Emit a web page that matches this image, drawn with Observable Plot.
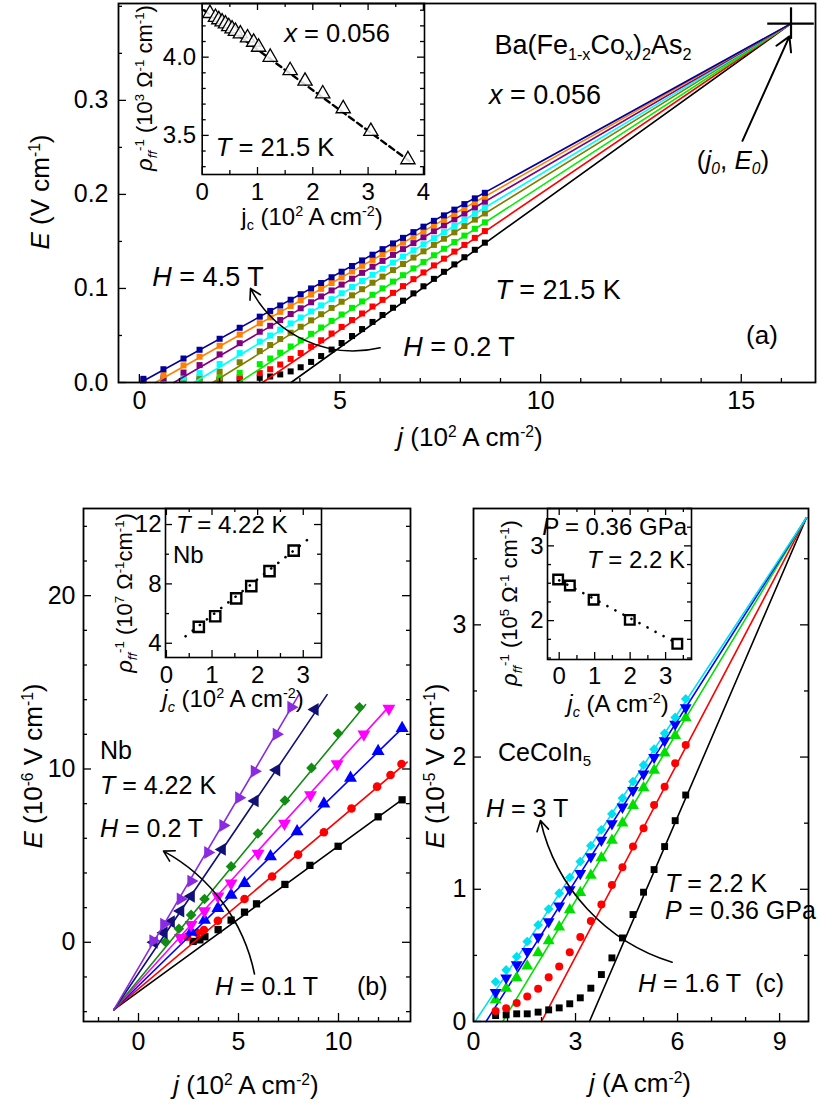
<!DOCTYPE html>
<html><head><meta charset="utf-8">
<script src="https://cdn.jsdelivr.net/npm/d3@7"></script>
<script src="https://cdn.jsdelivr.net/npm/@observablehq/plot@0.6"></script>
<style>
html,body{margin:0;padding:0;background:#fff;}
#wrap{position:relative;width:830px;height:1101px;overflow:hidden;font-family:"Liberation Sans",Arial,Helvetica,sans-serif;color:#000;background:#fff;}
#wrap svg{position:absolute;overflow:visible;}
.t{position:absolute;white-space:nowrap;line-height:1;}
.t sup{font-size:0.6em;vertical-align:0;position:relative;top:-0.6em;}
.t sub{font-size:0.6em;vertical-align:0;position:relative;top:0.35em;}
</style></head>
<body><div id="wrap"></div>
<script>
const FONT = '"Liberation Sans", Arial, Helvetica, sans-serif';
const wrap = document.getElementById("wrap");

// ================= Panel (a): Ba(Fe1-xCox)2As2 =================
const aColors = ["#000000","#ff0000","#00ee00","#808000","#00ffff","#800080","#ff8000","#00009c"]; // H = 0.2 T ... 4.5 T
const aJ = [0.1,0.6,1.1,1.5,2.0,2.5,3.0,3.26,3.51,3.77,4.02,4.28,4.53,4.79,5.04,5.3,5.55,5.81,6.06,6.32,6.57,6.83,7.08,7.34,7.59,7.85,8.1,8.36,8.61];
const aE_black  = [null,null,null,null,0.0025,0.0034,0.0050,0.0064,0.0086,0.0118,0.0162,0.0219,0.0281,0.0350,0.0420,0.0494,0.0568,0.0644,0.0718,0.0795,0.0870,0.0948,0.1023,0.1102,0.1177,0.1256,0.1332,0.1411,0.1487];
const aE_red    = [null,null,null,0.0025,0.0035,0.0055,0.0100,0.0141,0.0191,0.0251,0.0313,0.0382,0.0449,0.0521,0.0591,0.0664,0.0734,0.0808,0.0879,0.0953,0.1025,0.1099,0.1170,0.1245,0.1317,0.1392,0.1463,0.1538,0.1610];
const aE_green  = [null,null,0.0025,0.0033,0.0054,0.0103,0.0195,0.0255,0.0317,0.0383,0.0449,0.0518,0.0585,0.0655,0.0723,0.0794,0.0862,0.0933,0.1001,0.1073,0.1141,0.1213,0.1282,0.1353,0.1422,0.1494,0.1562,0.1634,0.1703];
const aE_olive  = [null,0.0023,0.0035,0.0056,0.0115,0.0215,0.0334,0.0399,0.0462,0.0529,0.0593,0.0661,0.0726,0.0793,0.0859,0.0927,0.0992,0.1061,0.1126,0.1195,0.1260,0.1329,0.1395,0.1463,0.1529,0.1597,0.1663,0.1732,0.1798];
const aE_cyan   = [null,0.0029,0.0053,0.0100,0.0197,0.0313,0.0435,0.0500,0.0562,0.0628,0.0691,0.0756,0.0820,0.0886,0.0949,0.1015,0.1079,0.1145,0.1209,0.1275,0.1339,0.1406,0.1469,0.1535,0.1599,0.1666,0.1730,0.1797,0.1860];
const aE_purple = [0.0023,0.0045,0.0106,0.0185,0.0299,0.0418,0.0540,0.0603,0.0664,0.0728,0.0789,0.0853,0.0915,0.0979,0.1041,0.1104,0.1166,0.1231,0.1293,0.1357,0.1418,0.1482,0.1544,0.1609,0.1671,0.1735,0.1797,0.1862,0.1923];
const aE_orange = [0.0026,0.0080,0.0182,0.0274,0.0391,0.0510,0.0630,0.0692,0.0752,0.0814,0.0874,0.0936,0.0996,0.1058,0.1118,0.1181,0.1241,0.1304,0.1364,0.1426,0.1487,0.1549,0.1609,0.1671,0.1731,0.1793,0.1854,0.1916,0.1976];
const aE_navy   = [0.0039,0.0141,0.0255,0.0348,0.0465,0.0582,0.0700,0.0761,0.0819,0.0880,0.0939,0.1000,0.1058,0.1119,0.1178,0.1239,0.1298,0.1359,0.1418,0.1479,0.1538,0.1599,0.1657,0.1719,0.1777,0.1838,0.1897,0.1958,0.2017];
const aE = [aE_black,aE_red,aE_green,aE_olive,aE_cyan,aE_purple,aE_orange,aE_navy];
const aIntercepts = [3.78,3.07,2.48,1.83,1.36,0.86,0.40,0.03];   // j where each linear fit reaches E = 0
const aCross = {j: 16.24, E: 0.3816, dj: 0.58, dE: 0.0168};     // common point (j0, E0)
// inset (a)
const iaJ = [0.14,0.24,0.30,0.36,0.42,0.48,0.54,0.60,0.69,0.82,0.93,1.02,1.23,1.59,1.86,2.18,2.55,3.05,3.72];
const iaR = [4.28,4.255,4.24,4.226,4.213,4.196,4.181,4.166,4.149,4.124,4.096,4.064,4.0,3.915,3.847,3.766,3.671,3.526,3.345];
const iaFitJ = [0.03,3.75], iaFitR = [4.30,3.335];

// ================= Panel (b): Nb =================
const bColors = ["#000000","#ff0000","#0000ff","#ff00ff","#128c12","#101078","#8a2be2"];
const bBlackJ = [13.18,11.98,9.98,8.57,7.32,5.9,5.3,4.63,3.98,3.32,3.07,2.73];
const bBlackE = [8.22,7.24,5.54,4.44,3.34,2.22,1.74,1.28,0.73,0.32,0.14,0.05];
const bRedJ = [13.15,12.6,11.93,10.65,9.27,7.98,6.68,5.3,3.97,3.27,2.93,2.43];
const bRedE = [10.29,9.65,8.98,7.72,6.35,5.06,3.8,2.5,1.24,0.71,0.55,0.32];
const bBlueJ = [13.18,11.98,10.6,9.27,7.93,6.6,5.3,4.63,3.97,3.3,2.63];
const bBlueE = [12.35,11.02,9.48,7.99,6.39,4.95,3.41,2.73,1.97,1.28,0.6];
const bMagJ = [12.52,11.27,9.93,8.6,7.3,5.98,4.63,3.97,3.3,2.63,2.1];
const bMagE = [13.49,12.0,10.29,8.5,6.85,5.13,3.41,2.66,1.81,1.01,0.27];
const bGreenJ = [11.05,9.98,8.65,7.32,5.97,4.63,3.3,2.63,2.02,1.35];
const bGreenE = [13.56,12.05,10.06,8.18,6.28,4.38,2.5,1.58,0.78,0.02];
const bNavyJ = [8.82,6.9,5.82,4.18,2.63,2.1,1.63,1.27,0.77];
const bNavyE = [13.43,9.94,8.16,5.36,2.66,1.81,1.19,0.55,0.0];
const bPurpleJ = [7.63,6.9,5.8,5.02,4.23,3.47,2.63,2.1,1.27,0.73];
const bPurpleE = [13.56,12.0,9.87,8.34,6.74,5.18,3.53,2.5,1.05,0.09];
const bJs = [bBlackJ,bRedJ,bBlueJ,bMagJ,bGreenJ,bNavyJ,bPurpleJ];
const bEs = [bBlackE,bRedE,bBlueE,bMagE,bGreenE,bNavyE,bPurpleE];
const bEndJ = [13.18,13.43,13.18,12.52,11.35,9.43,8.02];
const bEndE = [8.23,10.4,12.34,13.6,13.71,14.29,14.29];
const bCommon = {j: -1.23, E: -3.89};
// inset (b)
const ibJ = [0.71,1.07,1.53,1.86,2.26,2.79];
const ibR = [5.1,5.82,7.02,7.85,8.86,10.24];
const ibFitJ = [0.42,3.16], ibFitR = [4.47,11.14];

// ================= Panel (c): CeCoIn5 =================
const cColors = ["#000000","#ff0000","#00e000","#0000ff","#00e0f0"];
const cJ = [0.65,0.96,1.27,1.58,1.9,2.21,2.52,2.83,3.14,3.45,3.76,4.07,4.38,4.69,5.0,5.31,5.62,5.93,6.24];
const cBlackE = [0.045,0.05,0.058,0.058,0.071,0.088,0.103,0.134,0.179,0.252,0.355,0.481,0.632,0.809,0.978,1.149,1.323,1.519,1.713];
const cRedE   = [0.08,0.10,0.14,0.19,0.247,0.335,0.416,0.524,0.64,0.76,0.884,1.033,1.166,1.323,1.461,1.638,1.776,1.953,2.091];
const cGreenE = [0.164,0.25,0.33,0.42,0.52,0.61,0.715,0.845,0.975,1.105,1.237,1.37,1.50,1.634,1.767,1.899,2.03,2.163,2.296];
const cBlueE  = [0.22,0.33,0.43,0.53,0.64,0.755,0.875,0.998,1.12,1.246,1.371,1.497,1.622,1.747,1.873,1.998,2.124,2.249,2.374];
const cCyanE  = [0.30,0.39,0.49,0.605,0.73,0.85,0.97,1.09,1.21,1.33,1.45,1.57,1.69,1.815,1.94,2.06,2.18,2.30,2.44];
const cEs = [cBlackE,cRedE,cGreenE,cBlueE,cCyanE];
const cIntercepts = [3.41,2.0,0.86,0.37,0.05];
const cCommon = {j: 9.79, E: 3.81};
// inset (c)
const icJ = [-0.03,0.30,0.97,1.99,3.33];
const icR = [2.55,2.47,2.28,2.01,1.69];
const icFitJ = [0.0,3.35], icFitR = [2.54,1.69];

// ---------- custom symbols ----------
const s3 = Math.sqrt(3);
const triDown = {draw(c, size){const y=-Math.sqrt(size/(s3*3)); c.moveTo(0,-2*y); c.lineTo(-s3*y,y); c.lineTo(s3*y,y); c.closePath();}};
const triLeft = {draw(c, size){const y=-Math.sqrt(size/(s3*3)); c.moveTo(2*y,0); c.lineTo(-y,-s3*y); c.lineTo(-y,s3*y); c.closePath();}};
const triRight = {draw(c, size){const y=-Math.sqrt(size/(s3*3)); c.moveTo(-2*y,0); c.lineTo(y,-s3*y); c.lineTo(y,s3*y); c.closePath();}};

// ---------- helpers ----------
const fInt = d3.format("d"), f1 = d3.format(".1f");
function rng(a,b,s){const out=[];for(let v=a;v<=b+1e-9;v+=s)out.push(+v.toFixed(4));return out;}
function panel(o){
  const pw=o.width-o.mL-o.mR, ph=o.height-o.mT-o.mB;
  const M=o.majorLen, m=o.minorLen, sw=o.tickWidth||1.3;
  const minX=o.xMinor.filter(v=>!o.xTicks.some(t=>Math.abs(t-v)<1e-6));
  const minY=o.yMinor.filter(v=>!o.yTicks.some(t=>Math.abs(t-v)<1e-6));
  const tk=[
    Plot.tickX(o.xTicks,{x:d=>d,insetTop:ph-M,strokeWidth:sw}),
    Plot.tickX(minX,{x:d=>d,insetTop:ph-m,strokeWidth:sw}),
    Plot.tickY(o.yTicks,{y:d=>d,insetRight:pw-M,strokeWidth:sw}),
    Plot.tickY(minY,{y:d=>d,insetRight:pw-m,strokeWidth:sw})
  ];
  if(o.mirrorY){tk.push(Plot.tickY(o.yTicks,{y:d=>d,insetLeft:pw-M,strokeWidth:sw}),Plot.tickY(minY,{y:d=>d,insetLeft:pw-m,strokeWidth:sw}));}
  if(o.mirrorX){tk.push(Plot.tickX(o.xTicks,{x:d=>d,insetBottom:ph-M,strokeWidth:sw}),Plot.tickX(minX,{x:d=>d,insetBottom:ph-m,strokeWidth:sw}));}
  const svg=Plot.plot({
    width:o.width,height:o.height,marginLeft:o.mL,marginRight:o.mR,marginTop:o.mT,marginBottom:o.mB,
    x:{domain:o.xDomain},y:{domain:o.yDomain},
    style:{fontFamily:FONT,fontSize:o.fontSize+"px",background:"transparent",overflow:"visible",color:"#000"},
    marks:[
      ...o.marks,
      ...tk,
      Plot.frame({strokeWidth:o.frameWidth||1.8}),
      Plot.axisX({ticks:o.xTicks,tickSize:0,tickPadding:o.xPad,tickFormat:o.xFmt||fInt,label:null,fontSize:o.fontSize}),
      Plot.axisY({ticks:o.yTicks,tickSize:0,tickPadding:o.yPad,tickFormat:o.yFmt||fInt,label:null,fontSize:o.fontSize})
    ]
  });
  svg.style.left=o.left+"px"; svg.style.top=o.top+"px";
  wrap.appendChild(svg);
}
function T(html,x,y,{anchor="middle",size=25,rot=false}={}){
  const d=document.createElement("div");
  d.className="t"; d.innerHTML=html;
  d.style.left=x+"px"; d.style.top=y+"px"; d.style.fontSize=size+"px";
  const tx=anchor==="start"?"0":anchor==="end"?"-100%":"-50%";
  d.style.transform=rot?"translate(-50%,-50%) rotate(-90deg)":`translate(${tx},-50%)`;
  wrap.appendChild(d);
}
const pts=(J,E)=>J.map((j,k)=>({j,E:E[k]})).filter(d=>d.E!=null);

// ---------- Panel (a) ----------
const aMarks=[];
aE.forEach((E,i)=>{
  aMarks.push(Plot.line([{j:aIntercepts[i],E:0},{j:aCross.j,E:aCross.E}],{x:"j",y:"E",stroke:aColors[i],strokeWidth:1.6}));
  aMarks.push(Plot.dot(pts(aJ,E),{x:"j",y:"E",fill:aColors[i],symbol:"square",r:3.4}));
});
aMarks.push(Plot.ruleY([aCross],{y:"E",x1:d=>d.j-d.dj,x2:d=>d.j+d.dj,strokeWidth:2.2}));
aMarks.push(Plot.ruleX([aCross],{x:"j",y1:d=>d.E-d.dE,y2:d=>d.E+d.dE,strokeWidth:2.2}));
const aAnnot=[{x1:15.03,y1:0.257,x2:16.2,y2:0.368}];
aMarks.push(Plot.arrow(aAnnot,{x1:"x1",y1:"y1",x2:"x2",y2:"y2",strokeWidth:2,headLength:12}));
const aCurve=[{x1:6.0,y1:0.037,x2:2.77,y2:0.1}];
aMarks.push(Plot.arrow(aCurve,{x1:"x1",y1:"y1",x2:"x2",y2:"y2",bend:38,strokeWidth:1.6,headLength:11}));
panel({left:0,top:0,width:830,height:440,mL:118,mR:15,mT:3,mB:58,
  xDomain:[-0.52,16.85],yDomain:[0,0.403],
  xTicks:[0,5,10,15],xMinor:rng(0,16,1),yTicks:[0,0.1,0.2,0.3],yMinor:rng(0,0.4,0.05),
  yFmt:f1,fontSize:25,xPad:9,yPad:10,majorLen:8,minorLen:4,marks:aMarks});

// inset (a)
panel({left:130,top:0,width:310,height:230,mL:71.7,mR:16,mT:3,mB:56,
  xDomain:[0,4.02],yDomain:[3.25,4.343],
  xTicks:[0,1,2,3,4],xMinor:rng(0,4,0.5),yTicks:[3.5,4.0],yMinor:rng(3.3,4.3,0.1),
  yFmt:f1,fontSize:24,xPad:8,yPad:6,majorLen:7,minorLen:4,mirrorX:true,mirrorY:true,frameWidth:1.6,
  marks:[
    Plot.line(iaFitJ.map((j,k)=>({j,R:iaFitR[k]})),{x:"j",y:"R",stroke:"#000",strokeWidth:2.4,strokeDasharray:"6,4"}),
    Plot.dot(pts(iaJ,iaR),{x:"j",y:"E",fill:"#fff",fillOpacity:0.85,stroke:"#000",strokeWidth:1.3,symbol:"triangle",r:5.3})
  ]});

// ---------- Panel (b) ----------
const bSym=["square","circle","triangle",triDown,"diamond2",triLeft,triRight];
const bR=[4.1,4.3,4.8,4.8,4.8,4.8,4.8];
const bMarks=[];
bEs.forEach((E,i)=>{
  bMarks.push(Plot.line([{j:bCommon.j,E:bCommon.E},{j:bEndJ[i],E:bEndE[i]}],{x:"j",y:"E",stroke:bColors[i],strokeWidth:1.6}));
  bMarks.push(Plot.dot(pts(bJs[i],E),{x:"j",y:"E",fill:bColors[i],symbol:bSym[i],r:bR[i]}));
});
const bCurve=[{x1:5.8,y1:-1.83,x2:1.25,y2:5.26}];
bMarks.push(Plot.arrow(bCurve,{x1:"x1",y1:"y1",x2:"x2",y2:"y2",bend:-25,strokeWidth:1.6,headLength:11}));
panel({left:0,top:480,width:440,height:600,mL:83,mR:30,mT:28,mB:59,
  xDomain:[-2.75,13.6],yDomain:[-4.57,25.03],
  xTicks:[0,5,10],xMinor:rng(-2,13,1),yTicks:[0,10,20],yMinor:rng(-4,24,2),
  fontSize:25,xPad:11,yPad:8,majorLen:8,minorLen:4,mirrorY:true,marks:bMarks});

// inset (b)
panel({left:100,top:480,width:240,height:240,mL:65,mR:19,mT:28,mB:63,
  xDomain:[-0.02,3.4],yDomain:[3.04,13.08],
  xTicks:[0,1,2,3],xMinor:rng(0,3,0.5),yTicks:[4,8,12],yMinor:rng(4,12,2),
  fontSize:24,xPad:8,yPad:4,majorLen:7,minorLen:4,mirrorX:true,mirrorY:true,frameWidth:1.6,
  marks:[
    Plot.line(ibFitJ.map((j,k)=>({j,R:ibFitR[k]})),{x:"j",y:"R",stroke:"#000",strokeWidth:2.6,strokeDasharray:"0.1,9",strokeLinecap:"round"}),
    Plot.dot(pts(ibJ,ibR),{x:"j",y:"E",fill:"none",stroke:"#000",strokeWidth:2.4,symbol:"square",r:5.8})
  ]});

// ---------- Panel (c) ----------
const cSym=["square","circle","triangle",triDown,"diamond2"];
const cR=[3.9,4.0,4.4,4.4,4.4];
const cMarks=[];
cEs.forEach((E,i)=>{
  cMarks.push(Plot.line([{j:cIntercepts[i],E:0},{j:cCommon.j,E:cCommon.E}],{x:"j",y:"E",stroke:cColors[i],strokeWidth:1.6}));
});
cEs.forEach((E,i)=>{
  cMarks.push(Plot.dot(pts(cJ,E),{x:"j",y:"E",fill:cColors[i],symbol:cSym[i],r:cR[i]}));
});
const cCurve=[{x1:5.84,y1:0.448,x2:1.97,y2:1.52}];
cMarks.push(Plot.arrow(cCurve,{x1:"x1",y1:"y1",x2:"x2",y2:"y2",bend:30,strokeWidth:1.6,headLength:11}));
panel({left:430,top:480,width:400,height:600,mL:43,mR:22,mT:28,mB:59,
  xDomain:[0,9.85],yDomain:[0,3.88],
  xTicks:[0,3,6,9],xMinor:rng(0,9,1),yTicks:[0,1,2,3],yMinor:rng(0,3.5,0.5),
  fontSize:25,xPad:11,yPad:7,majorLen:8,minorLen:4,mirrorY:true,marks:cMarks});

// inset (c)
panel({left:480,top:480,width:230,height:240,mL:67,mR:19,mT:28,mB:61,
  xDomain:[-0.33,3.73],yDomain:[1.48,3.5],
  xTicks:[0,1,2,3],xMinor:rng(0,3.5,0.5),yTicks:[2,3],yMinor:rng(1.5,3.5,0.25),
  fontSize:24,xPad:7,yPad:4,majorLen:7,minorLen:4,mirrorX:true,mirrorY:true,frameWidth:1.6,
  marks:[
    Plot.line(icFitJ.map((j,k)=>({j,R:icFitR[k]})),{x:"j",y:"R",stroke:"#000",strokeWidth:2.6,strokeDasharray:"0.1,9",strokeLinecap:"round"}),
    Plot.dot(pts(icJ,icR),{x:"j",y:"E",fill:"none",stroke:"#000",strokeWidth:2.4,symbol:"square",r:5.4})
  ]});

// ---------- texts ----------
const rho = (p)=>`<i>ρ<sub>ff</sub></i><sup>-1</sup> (10<sup>${p}</sup> Ω<sup>-1</sup> cm<sup>-1</sup>)`;
// (a)
T("Ba(Fe<sub>1-x</sub>Co<sub>x</sub>)<sub>2</sub>As<sub>2</sub>",593,45,{size:27});
T("<i>x</i> = 0.056",545,95,{size:27});
T("(<i>j<sub>0</sub></i>, <i>E<sub>0</sub></i>)",733,160,{size:26});
T("<i>H</i> = 4.5 T",208,277,{size:27});
T("<i>H</i> = 0.2 T",459,347,{size:27});
T("<i>T</i> = 21.5 K",558,290,{size:27});
T("(a)",762,335,{size:26});
T("<i>j</i> (10<sup>2</sup> A cm<sup>-2</sup>)",470,437,{size:26});
T("<i>E</i> (V cm<sup>-1</sup>)",40,192,{rot:true,size:26});
T("<i>x</i> = 0.056",337,34,{size:25.5});
T("<i>T</i> = 21.5 K",275,148,{size:25.5});
T("j<sub>c</sub> (10<sup>2</sup> A cm<sup>-2</sup>)",312,217,{size:24});
T(rho(3),145,88,{size:22,rot:true});
// (b)
T("Nb",100,750,{anchor:"start"});
T("<i>T</i> = 4.22 K",100,785,{anchor:"start"});
T("<i>H</i> = 0.2 T",100,828,{anchor:"start"});
T("<i>H</i> = 0.1 T",215,986,{anchor:"start"});
T("(b)",357,986,{anchor:"start"});
T("<i>j</i> (10<sup>2</sup> A cm<sup>-2</sup>)",246,1085,{size:26});
T("<i>E</i> (10<sup>-6</sup> V cm<sup>-1</sup>)",33,766,{rot:true,size:26});
T("<i>T</i> = 4.22 K",176,525,{anchor:"start",size:24});
T("Nb",173,555,{anchor:"start",size:24});
T("<i>j<sub>c</sub></i> (10<sup>2</sup> A cm<sup>-2</sup>)",233,699,{size:24});
T(`<i>ρ<sub>ff</sub></i><sup>-1</sup> (10<sup>7</sup> Ω<sup>-1</sup>cm<sup>-1</sup>)`,125,593,{size:22,rot:true});
// (c)
T("CeCoIn<sub>5</sub>",498,752,{anchor:"start"});
T("<i>H</i> = 3 T",486,808,{anchor:"start"});
T("<i>T</i> = 2.2 K",665,883,{anchor:"start"});
T("<i>P</i> = 0.36 GPa",665,910,{anchor:"start"});
T("<i>H</i> = 1.6 T&nbsp;&nbsp;(c)",638,983,{anchor:"start"});
T("<i>j</i> (A cm<sup>-2</sup>)",640,1083,{size:26});
T("<i>E</i> (10<sup>-5</sup> V cm<sup>-1</sup>)",435,766,{rot:true,size:26});
T("<i>P</i> = 0.36 GPa",687,527,{anchor:"end",size:24});
T("<i>T</i> = 2.2 K",685,560,{anchor:"end",size:24});
T("<i>j<sub>c</sub></i> (A cm<sup>-2</sup>)",618,704,{size:24});
T(rho(5),510,603,{size:22,rot:true});
</script></body></html>
